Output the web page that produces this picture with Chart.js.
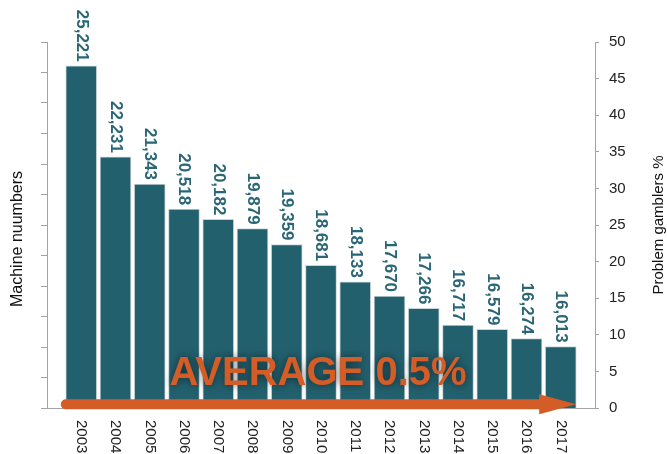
<!DOCTYPE html>
<html>
<head>
<meta charset="utf-8">
<script src="https://cdn.jsdelivr.net/npm/chart.js@4/dist/chart.umd.min.js"></script>
<style>
  html, body { margin: 0; padding: 0; background: #fff; }
  #wrap { position: relative; width: 667px; height: 454px; }
</style>
</head>
<body>
<div id="wrap"><canvas id="machines-chart" width="667" height="454"></canvas></div>
<script>
  var years = [2003, 2004, 2005, 2006, 2007, 2008, 2009, 2010, 2011, 2012, 2013, 2014, 2015, 2016, 2017];
  var machines = [25221, 22231, 21343, 20518, 20182, 19879, 19359, 18681, 18133, 17670, 17266, 16717, 16579, 16274, 16013];
  var avgProblemPct = 0.5;
  var percentTicks = [0, 5, 10, 15, 20, 25, 30, 35, 40, 45, 50];

  var FONT = "'Liberation Sans', Arial, sans-serif";
  var TEAL = "#23606e";
  var ORANGE = "#d45d27";
  var AXIS_GREY = "#a3a3a3";

  function sideTitle(ctx, text, x, y, size) {
    ctx.save();
    ctx.translate(x, y);
    ctx.rotate(-Math.PI / 2);
    ctx.font = size + "px " + FONT;
    ctx.fillStyle = "#111";
    ctx.textAlign = "center";
    ctx.textBaseline = "middle";
    ctx.fillText(text, 0, 0);
    ctx.restore();
  }

  // value labels above bars and year labels under the axis, both turned clockwise
  var barText = {
    id: "barText",
    afterDatasetsDraw: function (chart) {
      var ctx = chart.ctx;
      var xs = chart.scales.x;
      var meta = chart.getDatasetMeta(0);
      ctx.save();
      meta.data.forEach(function (bar, i) {
        ctx.save();
        ctx.translate(bar.x, bar.y - 4);
        ctx.rotate(Math.PI / 2);
        ctx.font = "bold 17px " + FONT;
        ctx.fillStyle = "#2a6676";
        ctx.textAlign = "right";
        ctx.textBaseline = "middle";
        ctx.fillText(machines[i].toLocaleString("en-US"), 0, 0);
        ctx.restore();

        ctx.save();
        ctx.translate(xs.getPixelForValue(years[i]), chart.chartArea.bottom + 12);
        ctx.rotate(Math.PI / 2);
        ctx.font = "15px " + FONT;
        ctx.fillStyle = "#222";
        ctx.textAlign = "left";
        ctx.textBaseline = "middle";
        ctx.fillText(String(years[i]), 0, 0);
        ctx.restore();
      });
      ctx.restore();

      // both axis titles read bottom to top
      var mid = (chart.chartArea.top + chart.chartArea.bottom) / 2;
      sideTitle(ctx, "Machine nuumbers", 18, mid + 14, 16);
      sideTitle(ctx, "Problem gamblers %", 659, mid, 15);
    }
  };

  // orange arrow along the average problem-gambler rate
  var averageArrow = {
    id: "averageArrow",
    afterDatasetsDraw: function (chart) {
      var ctx = chart.ctx;
      var xs = chart.scales.x;
      var y = chart.scales.y1.getPixelForValue(avgProblemPct);
      var x0 = xs.getPixelForValue(years[0] - 0.45);
      var tip = xs.getPixelForValue(years[years.length - 1] + 0.45);
      var headLen = 37;
      ctx.save();
      ctx.strokeStyle = ORANGE;
      ctx.fillStyle = ORANGE;
      ctx.lineWidth = 10;
      ctx.lineCap = "round";
      ctx.beginPath();
      ctx.moveTo(x0, y);
      ctx.lineTo(tip - headLen + 2, y);
      ctx.stroke();
      ctx.beginPath();
      ctx.moveTo(tip, y);
      ctx.lineTo(tip - headLen, y - 10);
      ctx.lineTo(tip - headLen, y + 10);
      ctx.closePath();
      ctx.fill();

      ctx.font = "bold 40px " + FONT;
      ctx.textAlign = "center";
      ctx.textBaseline = "alphabetic";
      ctx.shadowColor = "rgba(0, 0, 0, 0.55)";
      ctx.shadowBlur = 8;
      ctx.fillText("AVERAGE " + avgProblemPct + "%", (chart.chartArea.left + chart.chartArea.right) / 2 - 3, y - 19);
      ctx.restore();
    }
  };

  new Chart(document.getElementById("machines-chart"), {
    type: "bar",
    data: {
      datasets: [{
        label: "Machine numbers",
        data: years.map(function (yr, i) { return { x: yr, y: machines[i] }; }),
        backgroundColor: TEAL,
        borderColor: "#c9d6d9",
        borderWidth: 1,
        barThickness: 31,
        yAxisID: "y"
      }]
    },
    options: {
      responsive: false,
      animation: false,
      devicePixelRatio: 1,
      layout: { padding: { top: 42, left: 0, right: 0, bottom: 0 } },
      plugins: {
        legend: { display: false },
        tooltip: { enabled: false }
      },
      scales: {
        x: {
          type: "linear",
          offset: false,
          min: years[0] - 1,
          max: years[years.length - 1] + 1,
          ticks: { display: false, stepSize: 1 },
          grid: { display: false, offset: false },
          border: { display: true, color: AXIS_GREY, width: 1 },
          afterFit: function (scale) { scale.height = 46; }
        },
        y: {
          position: "left",
          min: 14000,
          max: 26000,
          ticks: { display: false, stepSize: 1000 },
          grid: { drawOnChartArea: false, color: AXIS_GREY, tickLength: 6 },
          border: { color: AXIS_GREY, width: 1 },
          afterFit: function (scale) { scale.width = 47; }
        },
        y1: {
          position: "right",
          min: 0,
          max: 50,
          afterBuildTicks: function (scale) {
            scale.ticks = percentTicks.map(function (v) { return { value: v }; });
          },
          ticks: { color: "#222", font: { family: FONT, size: 15 }, padding: 10, autoSkip: false },
          grid: { drawOnChartArea: false, color: AXIS_GREY, tickLength: 4 },
          border: { color: AXIS_GREY, width: 1 },
          afterFit: function (scale) { scale.width = 72; }
        }
      }
    },
    plugins: [barText, averageArrow]
  });
</script>
</body>
</html>
